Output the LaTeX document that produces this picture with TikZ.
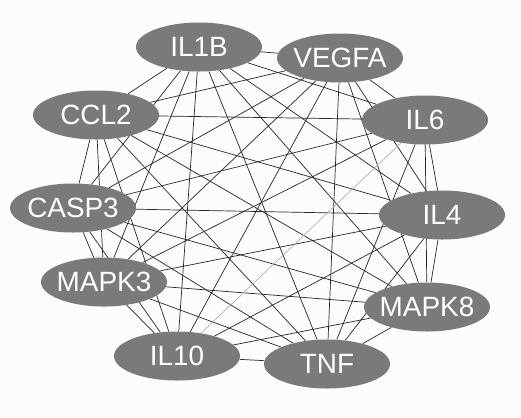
\documentclass[tikz,border=0pt]{standalone}
\usepackage{fontspec}
\setmainfont{Liberation Sans}
\usepackage{xcolor}
\usepackage{tikz}
\usetikzlibrary{shapes.geometric,backgrounds}

\definecolor{genegray}{RGB}{122,122,122}
\definecolor{paper}{RGB}{252,252,252}

\begin{document}
\begin{tikzpicture}[
  x=1bp, y=-1bp,
  every node/.style={font=\fontsize{28}{28}\selectfont},
  gene/.style={ellipse, fill=genegray, text=white, inner sep=0pt,
    minimum width=126bp, minimum height=49bp,
    execute at begin node={\hbox to 0pt\bgroup\hss},
    execute at end node={\hss\egroup}},
  link/.style={line width=0.7bp, black!85},
  faint/.style={line width=0.7bp, black!30}
]
\useasboundingbox (0,0) rectangle (521,417);

% genes, clockwise from the top
\node[gene] (IL1B)  at (199,47)  {IL1B};
\node[gene] (VEGFA) at (340,58)  {VEGFA};
\node[gene] (IL6)   at (425,120) {IL6};
\node[gene] (IL4)   at (442,215) {IL4};
\node[gene] (MAPK8) at (427,307) {MAPK8};
\node[gene] (TNF)   at (327,364) {TNF};
\node[gene] (IL10)  at (177,356) {IL10};
\node[gene] (MAPK3) at (104,282) {MAPK3};
\node[gene] (CASP3) at (73,208)  {CASP3};
\node[gene] (CCL2)  at (96,115)  {CCL2};

% every pair is linked, drawn under the genes
\begin{scope}[on background layer]
\fill[paper] (0,0) rectangle (521,417);
\foreach \a/\b in {IL1B/VEGFA, IL1B/IL6, IL1B/IL4, IL1B/MAPK8, IL1B/TNF,
    IL1B/IL10, IL1B/MAPK3, IL1B/CASP3, IL1B/CCL2,
    VEGFA/IL6, VEGFA/IL4, VEGFA/MAPK8, VEGFA/TNF, VEGFA/IL10,
    VEGFA/MAPK3, VEGFA/CASP3, VEGFA/CCL2,
    IL6/IL4, IL6/MAPK8, IL6/TNF, IL6/MAPK3, IL6/CASP3, IL6/CCL2,
    IL4/MAPK8, IL4/TNF, IL4/IL10, IL4/MAPK3, IL4/CASP3, IL4/CCL2,
    MAPK8/TNF, MAPK8/IL10, MAPK8/MAPK3, MAPK8/CASP3, MAPK8/CCL2,
    TNF/IL10, TNF/MAPK3, TNF/CASP3, TNF/CCL2,
    IL10/MAPK3, IL10/CASP3, IL10/CCL2,
    MAPK3/CASP3, MAPK3/CCL2, CASP3/CCL2}
  \draw[link] (\a) -- (\b);
\draw[faint] (IL6) -- (IL10);
\end{scope}
\end{tikzpicture}
\end{document}
